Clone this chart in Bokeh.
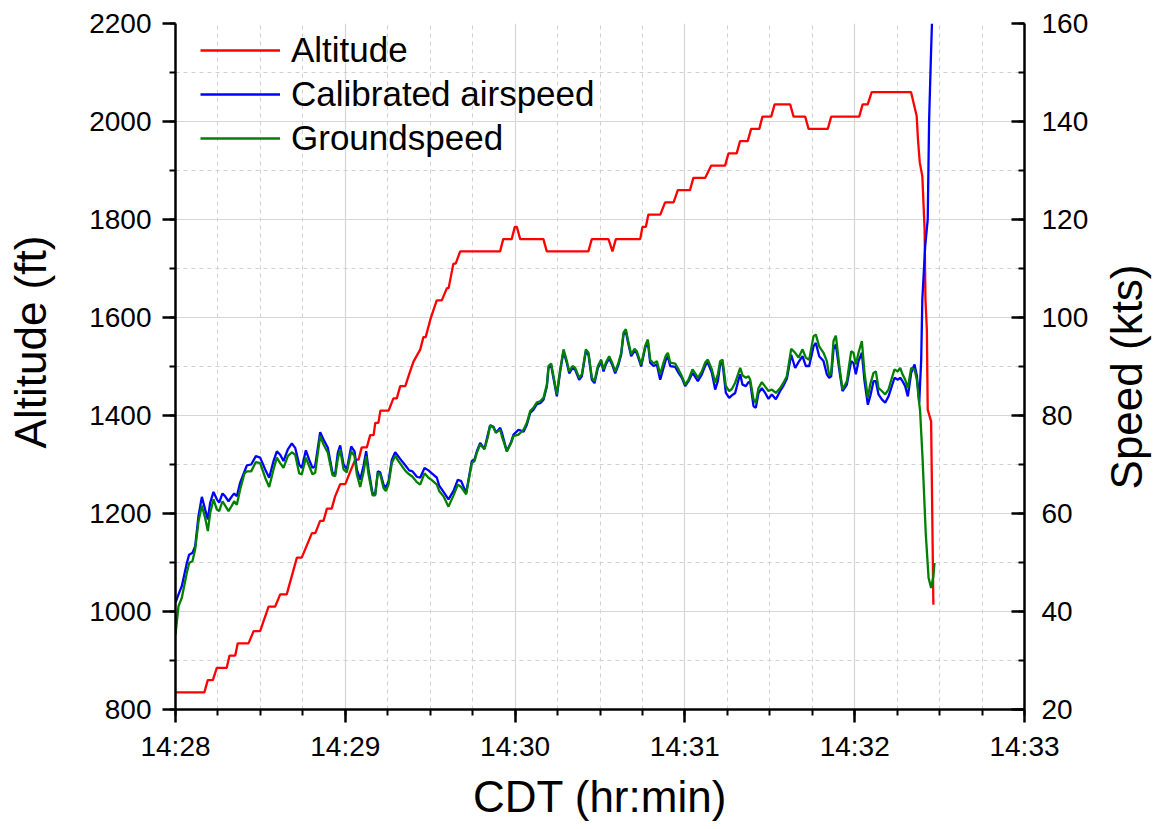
import math
from bokeh.plotting import figure
from bokeh.models import Range1d, LinearAxis, SingleIntervalTicker, Legend, LegendItem
from bokeh.embed import file_html
from bokeh.resources import INLINE

# ---------------- data ----------------
tick_seconds = [0, 60, 120, 180, 240, 300]
tick_labels = ["14:28", "14:29", "14:30", "14:31", "14:32", "14:33"]

# Altitude (ft) vs seconds after 14:28:00
alt_t = [0.0, 10.2, 11.4, 13.2, 14.6, 18.1, 19.1, 21.1, 22.0, 25.8, 27.6, 29.9,
         32.9, 35.2, 37.0, 39.3, 41.7, 42.9, 44.6, 48.2, 49.4, 51.1, 52.3, 53.5,
         55.2, 56.4, 58.2, 60.0, 61.7, 63.5, 64.7, 65.8, 67.6, 68.8, 70.0, 70.6,
         71.7, 72.4, 75.3, 77.0, 78.2, 79.4, 81.2, 82.6, 84.1, 86.5, 87.6, 88.4,
         90.0, 92.3, 94.1, 95.9, 96.5, 98.2, 99.0, 100.6, 114.7, 115.8, 118.8,
         119.9, 120.6, 121.8, 130.0, 131.2, 145.9, 147.1, 153.0, 154.4, 155.6,
         164.2, 165.0, 166.2, 167.1, 171.3, 173.0, 176.0, 177.5, 181.8, 183.0,
         187.2, 189.3, 194.2, 195.4, 198.3, 199.5, 202.2, 203.4, 206.3, 207.4,
         210.5, 211.7, 217.2, 218.4, 222.5, 223.7, 230.5, 231.7, 241.6, 242.8,
         244.6, 246.0, 259.9, 261.9, 262.4, 263.0, 263.9, 264.7, 265.0, 265.5,
         265.8, 267.0, 267.8]
alt_ft = [835, 835, 860, 860, 885, 885, 910, 910, 935, 935, 960, 960,
          1010, 1010, 1035, 1035, 1085, 1110, 1110, 1160, 1160, 1185, 1185, 1210,
          1210, 1235, 1260, 1260, 1285, 1310, 1310, 1335, 1335, 1360, 1360, 1385,
          1385, 1410, 1410, 1435, 1435, 1460, 1460, 1485, 1510, 1535, 1560, 1560,
          1595, 1635, 1635, 1660, 1660, 1710, 1710, 1735, 1735, 1760, 1760,
          1785, 1785, 1760, 1760, 1735, 1735, 1760, 1760, 1735, 1760,
          1760, 1785, 1785, 1810, 1810, 1835, 1835, 1860, 1860, 1885,
          1885, 1910, 1910, 1935, 1935, 1960, 1960, 1985, 1985, 2010,
          2010, 2035, 2035, 2010, 2010, 1985, 1985, 2010, 2010, 2035,
          2035, 2060, 2060, 2011, 1960, 1916, 1888, 1780, 1637, 1575,
          1412, 1388, 1014]

# Calibrated airspeed (kts)
cas_t = [0.0, 1.06, 2.24, 4.01, 4.83, 6.01, 6.95, 8.13, 9.31, 10.48, 11.43, 12.25,
         13.43, 14.61, 15.43, 16.61, 17.55, 18.73, 19.91, 20.73, 21.67, 22.85, 24.38,
         25.21, 26.74, 28.39, 29.92, 31.69, 33.10, 34.63, 35.81, 36.99, 38.16, 39.70,
         41.11, 42.29, 43.70, 44.64, 46.06, 47.23, 48.41, 49.35, 51.12, 52.30, 53.83,
         55.48, 56.42, 57.36, 58.19, 59.37, 60.54, 62.08, 63.25, 64.08, 65.26, 66.43,
         67.38, 68.20, 69.61, 70.56, 71.50, 72.33, 73.50, 74.33, 75.27, 76.45, 77.62,
         78.80, 79.98, 81.39, 82.57, 83.75, 85.28, 86.46, 87.99, 89.40, 90.58, 92.35,
         93.17, 94.71, 96.47, 98.24, 99.77, 100.95, 102.71, 103.54, 104.72, 105.66,
         106.48, 107.66, 109.19, 110.37, 111.19, 112.37, 113.20, 114.73, 115.32,
         117.08, 118.61, 119.44, 121.21,
         122.97, 124.15, 125.33, 126.51, 127.68, 128.86, 130.04, 131.22, 131.81,
         132.75, 133.57, 134.75, 135.93, 137.11, 138.29, 139.11, 140.29, 141.23,
         142.64, 143.59, 145.00, 145.94, 147.12, 148.06, 149.24, 150.42, 151.24,
         152.07, 153.24, 154.42, 155.37, 156.54, 157.49, 158.31, 159.13, 159.84,
         161.02, 162.20, 163.02, 164.55, 165.97, 166.91,
         167.73, 168.91, 170.09, 171.27, 172.45, 173.27, 173.98, 174.80, 176.57,
         177.75, 178.92, 180.10, 181.28, 182.69, 183.64, 184.58, 185.99, 187.17,
         188.11, 189.53, 190.70, 191.64, 192.47, 193.29, 194.47, 195.65, 196.59,
         197.77, 198.95, 199.54, 200.36, 201.54, 202.48,
         203.07, 204.25, 205.07, 206.01, 207.19, 208.37, 209.55, 210.72, 212.14,
         213.67, 214.85, 216.02, 217.56, 218.97, 220.15, 221.56, 222.74, 223.92,
         225.45, 226.27, 227.45, 228.98, 230.16, 230.98, 231.69, 232.51, 233.34,
         234.52, 235.70, 237.23, 238.76, 239.58, 240.41, 241.35, 242.53, 243.47,
         244.65, 245.47, 246.65, 247.47, 248.42, 249.59, 250.77, 251.95, 252.89,
         254.07, 255.25, 256.07, 256.90, 257.84, 258.78, 259.96, 261.14, 262.0,
         262.8, 263.5, 263.9, 264.9, 265.8, 266.3, 266.9, 267.3]
cas_kts = [41.8, 43.5, 45.2, 49.9, 51.6, 52.0, 53.3, 59.5, 63.4, 60.8, 58.8, 62.2,
           64.4, 62.9, 62.2, 64.1, 63.5, 62.5, 63.5, 64.1, 63.5, 66.3, 68.6,
           69.8, 70.0, 71.7, 71.4, 69.0, 67.3, 70.7, 72.7, 72.0, 70.7, 73.1,
           74.3, 73.4, 70.0, 69.3, 72.9, 71.0, 69.3, 69.7, 76.6, 75.1, 73.4,
           68.3, 68.0, 72.4, 73.9, 70.0, 69.0, 73.7, 72.7, 69.0, 66.9, 69.7,
           72.7, 69.0, 64.2, 63.9, 68.6, 68.4, 65.9, 65.2, 66.6, 71.0, 72.5,
           71.6, 70.7, 69.7, 68.8, 68.6, 67.5, 67.3, 69.3, 68.8, 68.2, 67.3,
           65.7, 64.4, 62.9, 64.6, 66.9, 66.6, 64.2, 66.9, 70.7, 71.0,
           72.7, 74.4, 73.2, 76.1, 78.0, 77.7, 76.5, 77.5, 76.5,
           72.7, 74.6, 76.1, 77.1,
           76.7, 78.1, 80.5, 81.2, 82.3, 82.5, 83.2, 85.9, 89.7,
           90.2, 87.6, 83.9, 89.0, 93.1, 90.7, 88.6, 89.7, 89.3,
           87.3, 88.0, 93.1, 92.4, 87.3, 86.6, 89.7, 91.0, 89.0,
           90.4, 91.7, 90.2, 88.6, 90.4, 92.4, 96.5, 97.2, 95.1,
           92.1, 93.2, 92.7, 90.0, 93.8, 95.1,
           90.8, 90.1, 90.4, 87.3, 89.7, 91.4, 92.1, 90.1, 89.9,
           88.7, 87.7, 86.0, 87.0, 88.7, 87.9, 87.0, 88.4, 90.2,
           90.8, 88.7, 85.3, 87.0, 90.4, 90.8, 84.6, 83.6, 84.1,
           84.6, 87.3, 88.4, 86.3, 86.0, 86.8,
           86.8, 81.9, 81.6, 84.6, 85.6, 84.6, 83.4, 84.3, 83.3,
           85.0, 86.1, 87.5, 92.4, 89.7, 90.9, 92.1, 90.1, 90.1,
           94.1, 94.8, 92.1, 91.1, 88.4, 87.7, 88.0, 93.5, 94.5,
           89.4, 85.0, 86.3, 91.1, 90.7, 88.4, 91.1, 92.8, 87.0,
           82.2, 83.9, 87.0, 87.0, 84.3, 83.3, 82.6, 83.9, 85.6,
           87.7, 87.3, 87.7, 87.0, 86.0, 83.9, 88.7, 90.4, 88.0,
           82.6, 91.4, 103.7, 114.5, 120.0, 140.4, 152.6, 160.0]

# Groundspeed (kts)
gs_t = [0.0, 1.06, 2.24, 4.01, 4.83, 6.01, 6.95, 8.13, 9.31, 10.48, 11.43, 12.25,
        13.43, 14.61, 15.43, 16.61, 17.55, 18.73, 19.91, 20.73, 21.67, 22.85, 24.38,
        25.21, 26.74, 28.39, 29.92, 31.69, 33.10, 34.63, 35.81, 36.99, 38.16, 39.70,
        41.11, 42.29, 43.70, 44.64, 46.06, 47.23, 48.41, 49.35, 51.12, 52.30, 53.83,
        55.48, 56.42, 57.36, 58.19, 59.37, 60.54, 62.08, 63.25, 64.08, 65.26, 66.43,
        67.38, 68.20, 69.61, 70.56, 71.50, 72.33, 73.50, 74.33, 75.27, 76.45, 77.62,
        78.80, 79.98, 81.39, 82.57, 83.75, 85.28, 86.46, 87.99, 89.40, 90.58, 92.35,
        93.17, 94.71, 96.47, 98.24, 99.77, 100.95, 102.71, 103.54, 104.72, 105.66,
        106.48, 107.66, 109.19, 110.37, 111.19, 112.37, 113.20, 114.73, 115.32,
        117.08, 118.61, 119.44, 121.21,
        122.97, 124.15, 125.33, 126.51, 127.68, 128.86, 130.04, 131.22, 131.81,
        132.75, 133.57, 134.75, 135.93, 137.11, 138.29, 139.11, 140.29, 141.23,
        142.64, 143.59, 145.00, 145.94, 147.12, 148.06, 149.24, 150.42, 151.24,
        152.07, 153.24, 154.42, 155.37, 156.54, 157.49, 158.31, 159.13, 159.84,
        161.02, 162.20, 163.02, 164.55, 165.97, 166.91,
        167.73, 168.91, 170.09, 171.27, 172.45, 173.27, 173.98, 174.80, 176.57,
        177.75, 178.92, 180.10, 181.28, 182.69, 183.64, 184.58, 185.99, 187.17,
        188.11, 189.53, 190.70, 191.64, 192.47, 193.29, 194.47, 195.65, 196.59,
        197.77, 198.95, 199.54, 200.36, 201.54, 202.48,
        203.07, 204.25, 205.07, 206.01, 207.19, 208.37, 209.55, 210.72, 212.14,
        213.67, 214.85, 216.02, 217.56, 218.97, 220.15, 221.56, 222.74, 223.92,
        225.45, 226.27, 227.45, 228.98, 230.16, 230.98, 231.69, 232.51, 233.34,
        234.52, 235.70, 237.23, 238.76, 239.58, 240.41, 241.35, 242.53, 243.47,
        244.65, 245.47, 246.65, 247.47, 248.42, 249.59, 250.77, 251.95, 252.89,
        254.07, 255.25, 256.07, 256.90, 257.84, 258.78, 259.96, 261.14, 261.96,
        262.55, 263.1, 264.0, 265.1, 266.1, 267.0, 267.8, 268.2]
gs_kts = [35.3, 41.1, 42.8, 47.9, 49.9, 50.3, 52.7, 58.4, 61.6, 59.1, 56.4, 60.1,
          62.9, 60.8, 60.5, 62.5, 61.6, 60.5, 61.6, 62.5, 61.8, 64.9, 68.2,
          68.6, 68.6, 70.5, 70.3, 67.3, 65.4, 69.0, 71.4, 70.3, 69.3, 71.7,
          72.5, 72.0, 68.2, 68.0, 71.4, 69.7, 68.0, 68.3, 75.8, 74.1, 72.4,
          67.8, 67.6, 71.2, 73.1, 69.0, 68.4, 72.7, 71.7, 68.0, 65.4, 68.4,
          71.7, 68.0, 63.7, 63.7, 68.3, 68.0, 65.2, 64.6, 65.9, 70.3, 71.8,
          70.7, 69.7, 68.6, 68.0, 67.5, 66.4, 65.9, 68.2, 67.3, 66.8, 65.9,
          64.6, 63.5, 61.4, 63.7, 65.9, 65.4, 63.9, 66.6, 70.3, 70.7,
          72.4, 74.1, 73.1, 75.6, 78.0, 77.5, 76.5, 77.1, 75.8,
          72.7, 74.4, 75.8, 76.1,
          77.1, 78.5, 80.9, 81.6, 82.7, 82.9, 83.6, 86.3, 90.1,
          90.6, 88.0, 84.3, 89.4, 93.5, 91.1, 89.0, 90.1, 89.7,
          87.7, 88.4, 93.5, 92.8, 87.7, 87.0, 90.1, 91.4, 89.4,
          90.8, 92.1, 90.6, 89.0, 90.8, 92.8, 96.9, 97.6, 95.5,
          92.5, 93.6, 93.1, 90.4, 94.2, 95.5,
          91.4, 90.6, 91.1, 88.4, 90.8, 92.2, 92.8, 90.8, 90.6,
          89.4, 88.0, 86.3, 87.3, 89.4, 88.6, 87.7, 89.0, 90.8,
          91.4, 89.4, 86.7, 88.4, 91.1, 91.4, 86.0, 85.0, 85.4,
          86.7, 88.7, 89.7, 88.2, 87.7, 88.0,
          87.3, 83.3, 82.6, 85.6, 86.8, 85.9, 85.0, 85.3, 84.6,
          85.6, 86.7, 88.0, 93.6, 92.8, 91.8, 93.5, 91.8, 91.4,
          96.2, 96.5, 94.1, 92.8, 91.1, 88.2, 88.6, 95.2, 96.3,
          90.4, 85.3, 87.0, 93.1, 92.8, 90.4, 92.8, 95.2, 88.7,
          83.6, 86.3, 88.7, 89.0, 85.6, 85.0, 84.3, 85.3, 87.2,
          89.4, 89.0, 89.7, 88.4, 87.3, 85.6, 89.7, 89.4, 87.3,
          83.9, 81.0, 71.0, 56.0, 46.9, 44.8, 47.2, 49.9]

# ---------------- figure ----------------
FONT = "Liberation Sans"
NBSP = "\u00a0"

p = figure(frame_width=849, frame_height=686,
           min_border_left=175, min_border_right=124,
           min_border_top=23, min_border_bottom=106,
           x_range=Range1d(0, 300), y_range=Range1d(800, 2200),
           output_backend="svg", toolbar_location=None, tools="")
p.extra_y_ranges = {"spd": Range1d(20, 160)}
p.outline_line_color = None
p.background_fill_color = "white"
p.border_fill_color = "white"

right = LinearAxis(y_range_name="spd")
p.add_layout(right, "right")

p.xaxis.ticker = SingleIntervalTicker(interval=60, num_minor_ticks=4)
p.yaxis[0].ticker = SingleIntervalTicker(interval=200, num_minor_ticks=2)
right.ticker = SingleIntervalTicker(interval=20, num_minor_ticks=2)
p.xaxis.major_label_overrides = {s: lab for s, lab in zip(tick_seconds, tick_labels)}

for ax in [p.xaxis[0], p.yaxis[0], right]:
    ax.axis_line_width = 2.5
    ax.axis_line_color = "black"
    ax.major_tick_line_width = 2.5
    ax.minor_tick_line_width = 2
    ax.major_tick_line_color = "black"
    ax.minor_tick_line_color = "black"
    ax.major_label_text_font = FONT
    ax.major_label_text_font_size = "28px"
    ax.major_label_text_color = "black"
    ax.axis_label_text_font = FONT
    ax.axis_label_text_font_size = "44px"
    ax.axis_label_text_font_style = "normal"
    ax.axis_label_text_color = "black"

for ax in [p.xaxis[0], p.yaxis[0]]:
    ax.major_tick_out = 13
    ax.major_tick_in = 0
    ax.minor_tick_out = 6
    ax.minor_tick_in = 0

right.major_tick_out = 0
right.major_tick_in = 13
right.minor_tick_out = 0
right.minor_tick_in = 6

p.xaxis.axis_label = "CDT (hr:min)"
p.xaxis.major_label_standoff = 8
p.xaxis.axis_label_standoff = 7

# leading no-break spaces lift the visible title a little above the axis centre, as in the original
p.yaxis[0].axis_label = NBSP * 4 + "Altitude (ft)"
p.yaxis[0].major_label_standoff = 11
p.yaxis[0].axis_label_standoff = 31

right.major_label_standoff = 17
right.axis_label_standoff = 35
right_title = "Speed (kts)"
right.axis_label = right_title
try:
    # read bottom-to-top like the original; the rotated text starts at its anchor,
    # so anchor it at the axis start and pad it up to the right height
    right.axis_label_orientation = math.pi / 2
    try:
        right.axis_label_align = "start"
        right.axis_label = NBSP * 18 + right_title
    except Exception:
        right.axis_label = right_title
except Exception:
    right.axis_label = right_title

for g in [p.xgrid[0], p.ygrid[0]]:
    g.grid_line_color = "#d6d6d6"
    g.grid_line_width = 1.2
    g.minor_grid_line_color = "#d0d0d0"
    g.minor_grid_line_width = 1
    g.minor_grid_line_dash = "4 4"

r_alt = p.line(alt_t, alt_ft, line_color="#ff0000", line_width=2.3)
r_cas = p.line(cas_t, cas_kts, line_color="#0000ff", line_width=2.3, y_range_name="spd")
r_gs = p.line(gs_t, gs_kts, line_color="#008000", line_width=2.3, y_range_name="spd")

legend = Legend(items=[LegendItem(label="Altitude", renderers=[r_alt]),
                       LegendItem(label="Calibrated airspeed", renderers=[r_cas]),
                       LegendItem(label="Groundspeed", renderers=[r_gs])],
                location=(25, 549), glyph_width=80, glyph_height=44,
                label_height=44, spacing=0, padding=0, margin=0,
                label_standoff=11, label_text_font=FONT,
                label_text_font_size="35px", label_text_color="black",
                border_line_alpha=0, background_fill_alpha=0)
p.add_layout(legend)

open("out.html", "w").write(file_html(p, INLINE))
